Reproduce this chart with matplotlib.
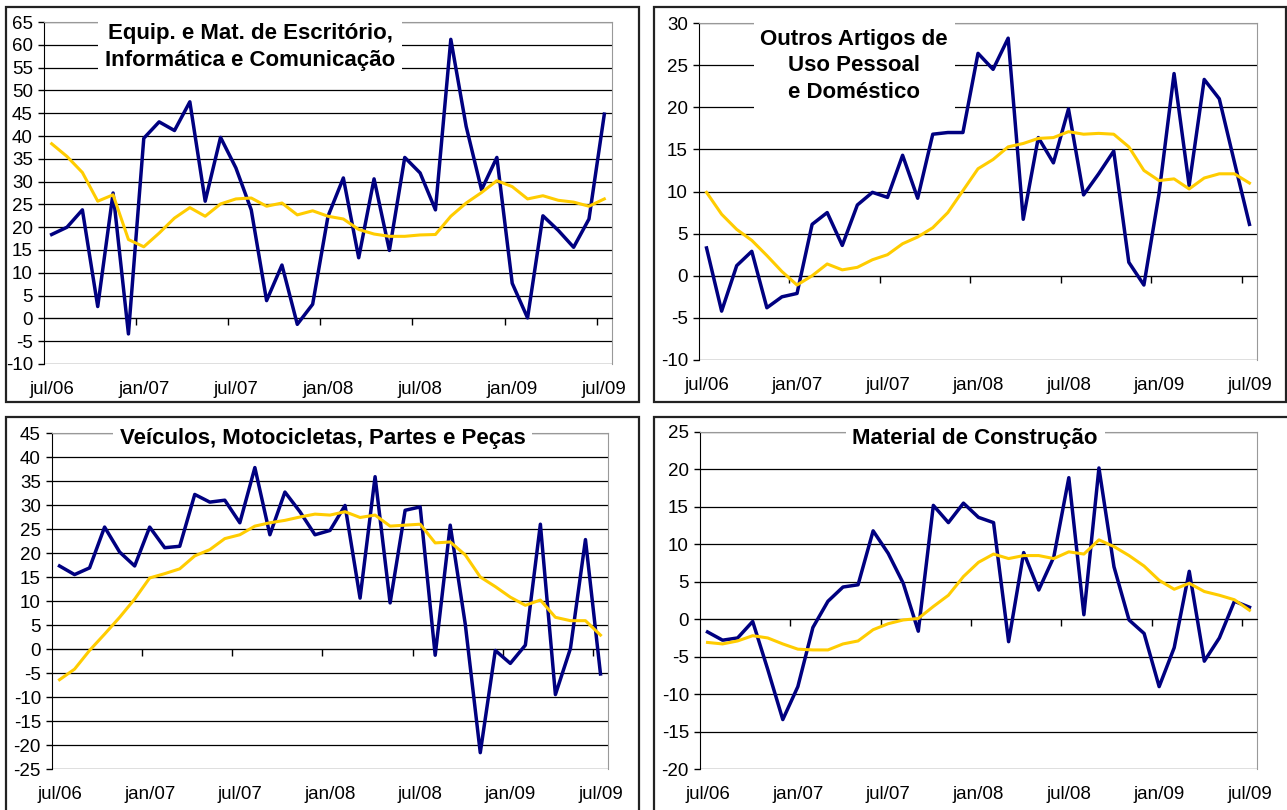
import matplotlib
matplotlib.use('Agg')
import matplotlib.pyplot as plt
from matplotlib.patches import Rectangle

plt.rcParams['font.family'] = ['Liberation Sans', 'DejaVu Sans']
plt.rcParams['axes.unicode_minus'] = False

meses = ['jul/06', 'ago/06', 'set/06', 'out/06', 'nov/06', 'dez/06',
         'jan/07', 'fev/07', 'mar/07', 'abr/07', 'mai/07', 'jun/07',
         'jul/07', 'ago/07', 'set/07', 'out/07', 'nov/07', 'dez/07',
         'jan/08', 'fev/08', 'mar/08', 'abr/08', 'mai/08', 'jun/08',
         'jul/08', 'ago/08', 'set/08', 'out/08', 'nov/08', 'dez/08',
         'jan/09', 'fev/09', 'mar/09', 'abr/09', 'mai/09', 'jun/09',
         'jul/09']

# Equip. e Mat. de Escritorio
equip_mes = [18.4, 20.0, 23.8, 2.6, 27.5, -3.4, 39.5, 43.1, 41.2, 47.5, 25.7, 39.7,
             33.0, 23.8, 3.9, 11.7, -1.3, 3.1, 22.4, 30.8, 13.3, 30.6, 14.9, 35.3,
             31.9, 23.8, 61.2, 42.1, 28.2, 35.3, 7.7, 0.1, 22.5, 19.3, 15.6, 21.8, 44.8]
equip_med = [38.3, 35.5, 32.0, 25.7, 27.1, 17.3, 15.7, 18.7, 22.0, 24.3, 22.4, 25.1,
             26.2, 26.4, 24.6, 25.3, 22.7, 23.6, 22.4, 21.8, 19.5, 18.5, 18.0, 18.0,
             18.3, 18.4, 22.4, 25.3, 27.6, 30.2, 28.9, 26.2, 26.9, 25.9, 25.5, 24.6, 26.2]

# Outros artigos de uso pessoal e domestico
outros_mes = [3.3, -4.2, 1.2, 2.9, -3.8, -2.5, -2.1, 6.1, 7.5, 3.6, 8.4, 9.9,
              9.3, 14.3, 9.2, 16.8, 17.0, 17.0, 26.4, 24.5, 28.2, 6.7, 16.4, 13.4,
              19.8, 9.6, 12.1, 14.8, 1.6, -1.1, 9.7, 24.0, 10.7, 23.3, 21.0, 13.5, 6.1]
outros_med = [9.9, 7.3, 5.5, 4.2, 2.4, 0.5, -1.1, 0.0, 1.4, 0.7, 1.0, 1.9,
              2.5, 3.8, 4.6, 5.7, 7.5, 10.1, 12.7, 13.8, 15.3, 15.7, 16.3, 16.4,
              17.1, 16.8, 16.9, 16.8, 15.3, 12.5, 11.3, 11.5, 10.3, 11.6, 12.1, 12.1, 11.0]

# Veiculos, motocicletas, partes e pecas
veic_mes = [17.3, 15.5, 16.9, 25.4, 20.2, 17.3, 25.4, 21.1, 21.4, 32.2, 30.6, 31.0,
            26.3, 37.8, 23.8, 32.7, 28.6, 23.8, 24.7, 29.9, 10.6, 35.9, 9.6, 28.9,
            29.6, -1.3, 25.8, 5.2, -21.6, -0.3, -3.0, 0.8, 26.0, -9.5, 0.1, 22.8, -5.2]
veic_med = [-6.4, -4.2, -0.3, 3.1, 6.6, 10.4, 14.8, 15.7, 16.7, 19.4, 20.7, 23.0,
            23.8, 25.6, 26.3, 26.8, 27.5, 28.1, 27.9, 28.6, 27.4, 27.9, 25.6, 25.8,
            26.0, 22.1, 22.3, 19.6, 15.0, 13.0, 10.8, 9.1, 10.2, 6.6, 5.9, 5.9, 2.9]

# Material de construcao
const_mes = [-1.7, -2.8, -2.5, -0.3, -6.7, -13.4, -9.0, -1.1, 2.4, 4.3, 4.6, 11.8,
             8.8, 4.8, -1.6, 15.2, 12.9, 15.5, 13.6, 12.9, -3.0, 8.9, 3.9, 8.3,
             18.9, 0.6, 20.2, 7.0, -0.1, -1.9, -9.0, -3.8, 6.4, -5.6, -2.5, 2.4, 1.6]
const_med = [-3.1, -3.3, -2.9, -2.2, -2.5, -3.3, -4.0, -4.1, -4.1, -3.3, -2.9, -1.4,
             -0.6, -0.1, 0.1, 1.7, 3.2, 5.7, 7.6, 8.7, 8.1, 8.5, 8.5, 8.1,
             9.0, 8.7, 10.6, 9.7, 8.5, 7.1, 5.2, 4.0, 4.8, 3.7, 3.2, 2.6, 1.2]

azul = '#000080'
amarelo = '#FFCC00'

W, H = 1287, 810
fig = plt.figure(figsize=(W / 100, H / 100), dpi=100)


def painel(moldura, area, mes, med, ylim, titulo, tx, ty, tsize):
    # moldura e area em pixels: (esq, topo, dir, base)
    x0, y0, x1, y1 = moldura
    fig.patches.append(Rectangle((x0 / W, 1 - y1 / H), (x1 - x0) / W, (y1 - y0) / H,
                                 transform=fig.transFigure, fill=False,
                                 edgecolor='#222222', lw=1.6))
    l, t, r, b = area
    ax = fig.add_axes([l / W, 1 - b / H, (r - l) / W, (b - t) / H])
    x = range(len(mes))
    ax.plot(x, mes, color=azul, lw=2.5, zorder=4)
    ax.plot(x, med, color=amarelo, lw=2.2, zorder=4)
    ax.set_xlim(-0.5, len(mes) - 0.5)
    ax.set_ylim(ylim[0], ylim[1])
    ax.set_yticks(range(ylim[0], ylim[1] + 1, 5))
    ax.yaxis.grid(True, color='black', lw=0.9)
    ax.set_axisbelow(True)
    for s in ['top', 'right']:
        ax.spines[s].set_color('#999999')
    ax.spines['left'].set_color('black')
    ax.spines['bottom'].set_position(('data', 0))
    ax.spines['bottom'].set_color('black')
    ax.set_xticks([i - 0.5 for i in range(6, len(mes), 6)])
    ax.tick_params(axis='x', length=5, width=1, labelbottom=False)
    ax.tick_params(axis='y', length=4, width=1, labelsize=13.5, pad=4)
    sec = ax.secondary_xaxis(0)
    sec.set_xticks(list(range(0, len(mes), 6)), meses[::6])
    sec.tick_params(length=0, labelsize=13.5, pad=12)
    sec.spines['bottom'].set_visible(False)
    ax.text(tx, ty, titulo, transform=ax.transAxes, ha='center', va='center',
            fontsize=tsize, fontweight='bold', linespacing=1.35, zorder=3,
            bbox=dict(boxstyle='square,pad=0.3', fc='white', ec='none'))
    return ax


painel((6, 7, 639, 402), (44, 22, 612, 364), equip_mes, equip_med, (-10, 65),
       'Equip. e Mat. de Escritório,\nInformática e Comunicação', 0.363, 0.927, 16)
painel((654, 7, 1286, 402), (699, 23, 1257, 360), outros_mes, outros_med, (-10, 30),
       'Outros Artigos de\nUso Pessoal\ne Doméstico', 0.278, 0.873, 16)
painel((6, 417, 639, 815), (52, 433, 608, 769), veic_mes, veic_med, (-25, 45),
       'Veículos, Motocicletas, Partes e Peças', 0.487, 0.985, 16)
painel((654, 417, 1290, 815), (700, 432, 1257, 769), const_mes, const_med, (-20, 25),
       'Material de Construção', 0.494, 0.982, 16)

fig.savefig('out.png', dpi=100)
